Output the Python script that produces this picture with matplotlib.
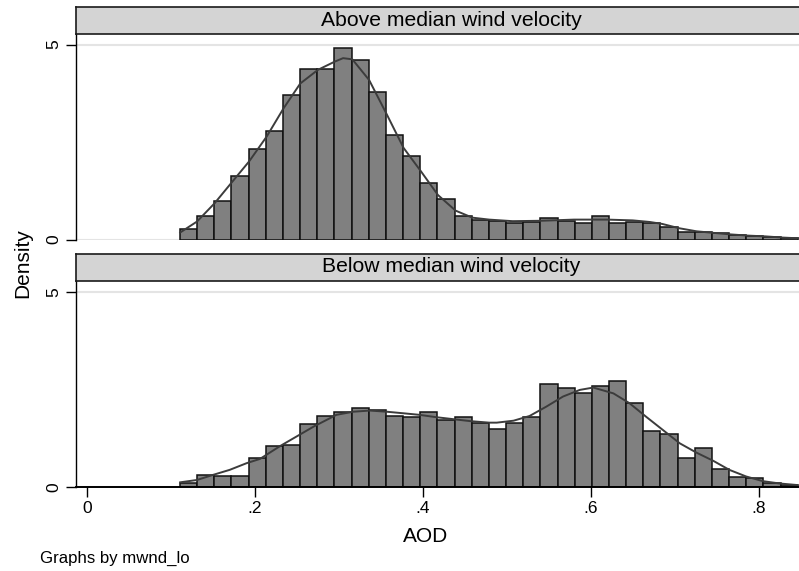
import numpy as np
import matplotlib
matplotlib.use("Agg")
from matplotlib import pyplot as plt

plt.rcParams['font.family'] = ['Liberation Sans', 'DejaVu Sans']

# histogram bins (AOD)
bin_lo = 0.1107
bin_w = 0.02044
n_bins = 36

panels = ["Above median wind velocity", "Below median wind velocity"]

dens_above = [0.27, 0.60, 0.98, 1.64, 2.33, 2.78, 3.71, 4.38, 4.38, 4.92, 4.61, 3.79,
              2.67, 2.13, 1.46, 1.03, 0.60, 0.51, 0.47, 0.42, 0.44, 0.55, 0.48, 0.43,
              0.61, 0.43, 0.46, 0.42, 0.31, 0.19, 0.18, 0.16, 0.11, 0.085, 0.07, 0.04]
dens_below = [0.11, 0.32, 0.27, 0.27, 0.74, 1.05, 1.08, 1.62, 1.82, 1.92, 2.03, 1.98,
              1.83, 1.80, 1.93, 1.73, 1.79, 1.65, 1.48, 1.64, 1.79, 2.64, 2.54, 2.40,
              2.58, 2.73, 2.15, 1.43, 1.36, 0.75, 0.99, 0.47, 0.25, 0.22, 0.11, 0.05]

# kernel density curves
kx_above = [0.111, 0.131, 0.152, 0.173, 0.193, 0.214, 0.234, 0.254, 0.275, 0.295, 0.305,
            0.316, 0.336, 0.357, 0.377, 0.398, 0.418, 0.439, 0.459, 0.479, 0.507, 0.54,
            0.58, 0.62, 0.65, 0.67, 0.685, 0.705, 0.726, 0.746, 0.767, 0.787, 0.808,
            0.828, 0.848]
ky_above = [0.18, 0.46, 0.93, 1.48, 2.0, 2.64, 3.36, 4.0, 4.35, 4.56, 4.65,
            4.62, 4.09, 3.21, 2.35, 1.74, 1.14, 0.74, 0.56, 0.51, 0.47, 0.48,
            0.51, 0.51, 0.49, 0.45, 0.40, 0.29, 0.21, 0.17, 0.13, 0.10, 0.08,
            0.05, 0.03]
kx_below = [0.111, 0.131, 0.150, 0.170, 0.190, 0.206, 0.230, 0.250, 0.270, 0.289, 0.297,
            0.317, 0.337, 0.357, 0.377, 0.396, 0.416, 0.436, 0.456, 0.479, 0.488, 0.508,
            0.527, 0.547, 0.567, 0.587, 0.603, 0.627, 0.646, 0.666, 0.686, 0.706, 0.726,
            0.746, 0.765, 0.785, 0.805, 0.825, 0.846]
ky_below = [0.12, 0.18, 0.31, 0.44, 0.61, 0.72, 1.05, 1.30, 1.55, 1.76, 1.85,
            1.93, 1.96, 1.93, 1.89, 1.85, 1.79, 1.74, 1.69, 1.65, 1.65, 1.70,
            1.82, 2.06, 2.32, 2.49, 2.55, 2.40, 2.15, 1.80, 1.46, 1.12, 0.88,
            0.67, 0.44, 0.27, 0.15, 0.09, 0.05]

xticks = [0, 0.2, 0.4, 0.6, 0.8]
xticklabels = ["0", ".2", ".4", ".6", ".8"]
yticks = [0, 5]

W, H = 799, 571
fig = plt.figure(figsize=(W / 100, H / 100), dpi=100)

def fx(px):
    return px / W

def fy(py):
    return 1 - py / H

left = 75.5
edges = bin_lo + bin_w * np.arange(n_bins)

layout = [  # (strip top, strip bottom, plot bottom) in pixels
    (6.5, 33.5, 239.5),
    (253.5, 280.5, 487),
]
data = [(dens_above, kx_above, ky_above), (dens_below, kx_below, ky_below)]

for i, (title, (st, sb, pb)) in enumerate(zip(panels, layout)):
    dens, kx, ky = data[i]
    ax = fig.add_axes([fx(left), fy(pb), 1 - fx(left), (pb - sb) / H])
    ax.bar(edges, dens, width=bin_w, align='edge', color='#808080',
           edgecolor='#111111', linewidth=1.1, zorder=2)
    ax.plot(kx, ky, color='#3c3c3c', linewidth=1.4, zorder=3)
    ax.set_xlim(-0.0137, 0.848)
    ax.set_ylim(0, (pb - sb) / 39.0)
    ax.set_yticks(yticks)
    ax.set_yticklabels([str(t) for t in yticks], rotation=90, va='center', fontsize=12.5)
    ax.grid(axis='y', color='#e4e4e4', linewidth=1.5, zorder=0)
    ax.tick_params(axis='y', direction='out', length=7, width=1, pad=3.5)
    for s in ['top', 'right']:
        ax.spines[s].set_visible(False)
    ax.spines['left'].set_linewidth(1.0)
    if i == 0:
        ax.spines['bottom'].set_visible(False)
        ax.set_xticks([])
    else:
        ax.spines['bottom'].set_linewidth(1.4)
        ax.set_xticks(xticks)
        ax.set_xticklabels(xticklabels, fontsize=12.5)
        ax.tick_params(axis='x', direction='out', length=7, width=1, pad=3)

    sax = fig.add_axes([fx(left), fy(sb), 1 - fx(left), (sb - st) / H])
    sax.set_facecolor('#d4d4d4')
    sax.set_xticks([])
    sax.set_yticks([])
    for s in sax.spines.values():
        s.set_linewidth(1.2)
        s.set_color('#1a1a1a')
    sax.spines['right'].set_visible(False)
    fig.text(fx(451.5), fy((st + sb) / 2), title, ha='center', va='center',
             fontsize=15.2)

fig.text(fx(23), fy(263), "Density", rotation=90, ha='center', va='center', fontsize=15)
fig.text(fx(425.5), fy(537), "AOD", ha='center', va='center', fontsize=15)
fig.text(fx(40), fy(558), "Graphs by mwnd_lo", ha='left', va='center', fontsize=12.1)

fig.savefig("out.png", dpi=100)
